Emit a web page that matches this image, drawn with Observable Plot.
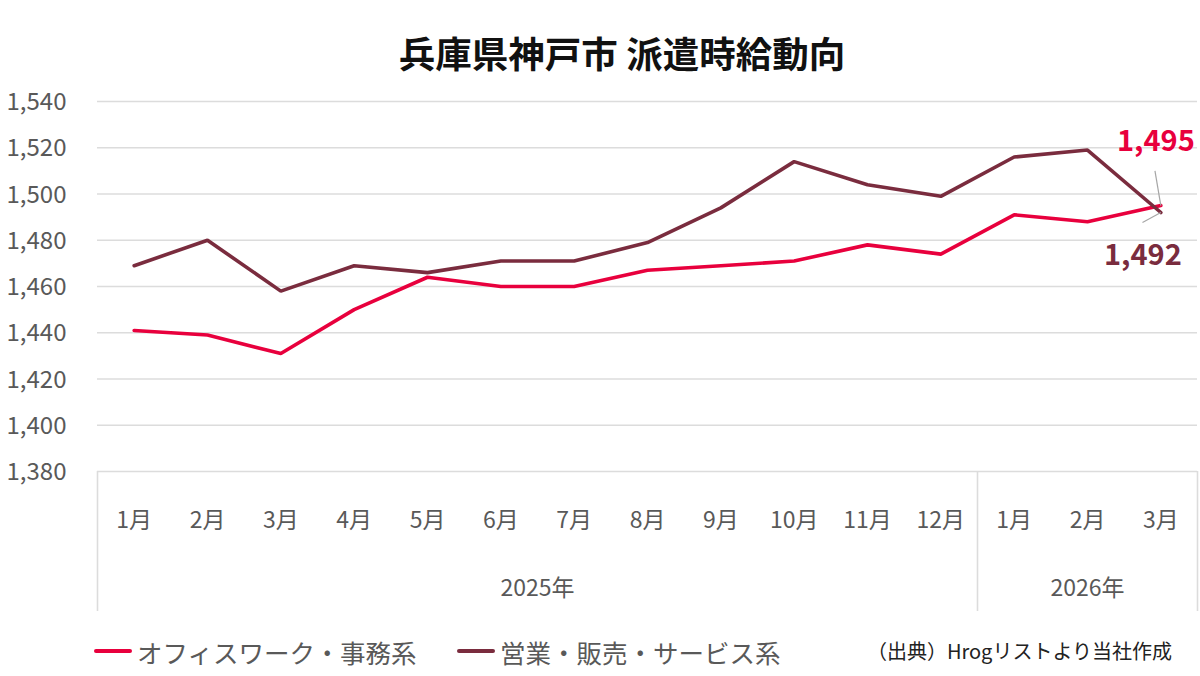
<!DOCTYPE html>
<html>
<head>
<meta charset="utf-8">
<script src="https://cdn.jsdelivr.net/npm/d3@7"></script>
<script src="https://cdn.jsdelivr.net/npm/@observablehq/plot@0.6"></script>
<style>
  html, body { margin: 0; padding: 0; background: #fff; }
  body {
    width: 1200px; height: 676px; position: relative; overflow: hidden;
    font-family: "Noto Sans CJK JP", "Noto Sans", sans-serif; color: #595959;
  }
  #title {
    position: absolute; left: 22px; top: 35px; width: 1200px; text-align: center;
    font-size: 36.5px; font-weight: 700; color: #111; line-height: 1;
  }
  #chart { position: absolute; left: 0; top: 90px; }
  #legend { position: absolute; left: 0; top: 634px; width: 1200px; height: 34px; }
  .item { position: absolute; top: 0; display: flex; align-items: center; height: 34px; font-size: 25.5px; }
  .swatch { width: 38px; height: 4px; border-radius: 2px; margin-right: 5px; }
  #source { position: absolute; right: 28px; top: 0; height: 34px; line-height: 34px; font-size: 20px; color: #222; }
</style>
</head>
<body>
<div id="title">兵庫県神戸市 派遣時給動向</div>
<div id="chart"></div>
<div id="legend"></div>
<script>
// Monthly categories and their year groups
const months = ["1月", "2月", "3月", "4月", "5月", "6月", "7月", "8月", "9月", "10月", "11月", "12月", "1月", "2月", "3月"];
const yearLabels = ["2025年", "2026年"];
const yearMonthCounts = [12, 3];

// Average hourly wage (円) for each job category
const seriesNames = ["オフィスワーク・事務系", "営業・販売・サービス系"];
const officeWage = [1441, 1439, 1431, 1450, 1464, 1460, 1460, 1467, 1469, 1471, 1478, 1474, 1491, 1488, 1495];
const salesWage  = [1469, 1480, 1458, 1469, 1466, 1471, 1471, 1479, 1494, 1514, 1504, 1499, 1516, 1519, 1492];
const seriesColors = ["#e8003d", "#7a2c3e"];

const yTicks = [1380, 1400, 1420, 1440, 1460, 1480, 1500, 1520, 1540];
const sourceNote = "（出典）Hrogリストより当社作成";

// Long-format rows for the line mark; x is the centre of each month slot
const rows = [officeWage, salesWage].flatMap((vals, s) =>
  vals.map((v, i) => ({series: seriesNames[s], x: i + 0.5, value: v}))
);
const lastPoints = [officeWage, salesWage].map((vals, s) => ({
  series: seriesNames[s], x: vals.length - 0.5, value: vals[vals.length - 1]
}));

// Year group boundaries and centres on the month axis
const bounds = [0];
yearMonthCounts.forEach(c => bounds.push(bounds[bounds.length - 1] + c));
const yearGroups = yearLabels.map((label, k) => ({label, center: (bounds[k] + bounds[k + 1]) / 2}));

const fmt = d3.format(",");
const grid = "#dcdcdc";

const chart = Plot.plot({
  width: 1200,
  height: 530,
  marginLeft: 97,
  marginRight: 3,
  marginTop: 11,
  marginBottom: 149,
  style: {fontFamily: '"Noto Sans CJK JP", sans-serif', background: "transparent", overflow: "visible"},
  x: {domain: [0, months.length], axis: null},
  y: {domain: [1380, 1540], axis: null},
  color: {domain: seriesNames, range: seriesColors},
  marks: [
    // horizontal gridlines and value labels
    Plot.ruleY(yTicks, {stroke: grid, strokeWidth: 1.6}),
    Plot.text(yTicks, {y: d => d, text: d => fmt(d), frameAnchor: "left", textAnchor: "end", dx: -31, dy: 1, fontSize: 24, fill: "#595959"}),
    // category box separators under the plot
    Plot.ruleX(bounds, {x: d => d, stroke: grid, strokeWidth: 1.6, insetTop: 370, insetBottom: -140}),
    // month and year labels
    Plot.text(months, {x: (d, i) => i + 0.5, text: d => d, frameAnchor: "bottom", dy: 56, fontSize: 23, fill: "#595959"}),
    Plot.text(yearGroups, {x: "center", text: "label", frameAnchor: "bottom", dy: 124, fontSize: 23, fill: "#595959"}),
    // wage lines
    Plot.line(rows, {x: "x", y: "value", z: "series", stroke: "series", strokeWidth: 3.6, strokeLinejoin: "miter"}),
    // leader lines for the end labels
    Plot.link([lastPoints[0]], {x1: "x", y1: "value", x2: d => d.x - 0.08, y2: d => d.value + 15, stroke: "#a6a6a6", strokeWidth: 1.2}),
    Plot.link([lastPoints[1]], {x1: "x", y1: "value", x2: d => d.x - 0.25, y2: d => d.value - 4.3, stroke: "#a6a6a6", strokeWidth: 1.2}),
    // end value labels
    Plot.text([lastPoints[0]], {x: "x", y: "value", text: d => fmt(d.value), dx: -5, dy: -64, fontSize: 29, fontWeight: 700, fill: seriesColors[0]}),
    Plot.text([lastPoints[1]], {x: "x", y: "value", text: d => fmt(d.value), dx: -18, dy: 43, fontSize: 29, fontWeight: 700, fill: seriesColors[1]})
  ]
});
document.getElementById("chart").appendChild(chart);

// Legend and source note
const legend = document.getElementById("legend");
const itemLeft = [94, 457];
seriesNames.forEach((name, s) => {
  const item = document.createElement("div");
  item.className = "item";
  item.style.left = itemLeft[s] + "px";
  const sw = document.createElement("span");
  sw.className = "swatch";
  sw.style.background = seriesColors[s];
  const label = document.createElement("span");
  label.textContent = name;
  item.append(sw, label);
  legend.appendChild(item);
});
const src = document.createElement("div");
src.id = "source";
src.textContent = sourceNote;
legend.appendChild(src);
</script>
</body>
</html>
